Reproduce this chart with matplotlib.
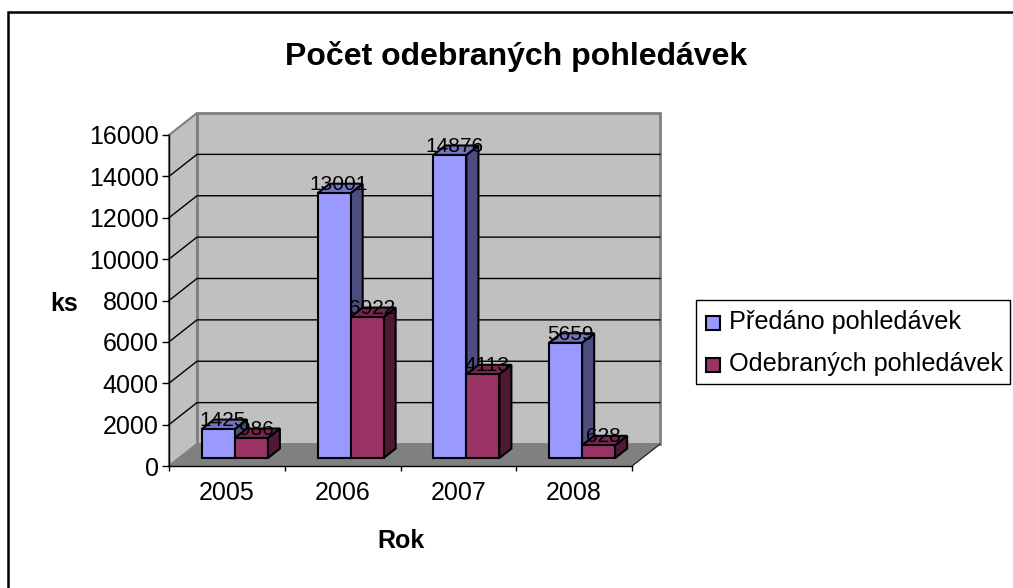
import numpy as np
import matplotlib
matplotlib.use("Agg")
import matplotlib.pyplot as plt
from matplotlib.patches import Polygon, Rectangle

plt.rcParams['font.family'] = ['Liberation Sans', 'DejaVu Sans']

years = ["2005", "2006", "2007", "2008"]
predano = [1425, 13001, 14876, 5659]
odebrano = [986, 6922, 4113, 628]
series_names = ["Předáno pohledávek", "Odebraných pohledávek"]
yticks = [0, 2000, 4000, 6000, 8000, 10000, 12000, 14000, 16000]

W, H = 1013, 588
fig = plt.figure(figsize=(W/100, H/100), dpi=100)

# okraj grafu
frame = fig.add_axes([0, 0, 1, 1], zorder=0)
frame.set_xlim(0, W)
frame.set_ylim(H, 0)
frame.axis("off")
frame.add_patch(Rectangle((8, 12), W-8+5, H-12+5, fc="white", ec="black", lw=1.8))

# hlavni osy, pozice v pixelech
x0, x1, y0, y1 = 169, 632, 466, 135
ax = fig.add_axes([x0/W, 1-y0/H, (x1-x0)/W, (y0-y1)/H], zorder=1)
ax.set_xlim(0, 4)
ax.set_ylim(0, 16000)
ax.patch.set_alpha(0)

# sikma hloubka: d=1 je zadni stena
dx = 28/((x1-x0)/4)
dy = 22/((y0-y1)/16000)


def pr(x, y, d):
    return (x + d*dx, y + d*dy)


def poly(pts, fc, ec="black", lw=1.5, z=2):
    ax.add_patch(Polygon(pts, closed=True, fc=fc, ec=ec, lw=lw, joinstyle="miter",
                         zorder=z, clip_on=False))


# steny
poly([pr(0, 0, 1), pr(4, 0, 1), pr(4, 16000, 1), pr(0, 16000, 1)], "#C0C0C0", "#808080", 2, 1)
poly([pr(0, 0, 0), pr(0, 0, 1), pr(0, 16000, 1), pr(0, 16000, 0)], "#C0C0C0", "#808080", 1.5, 1)
poly([pr(0, 0, 0), pr(4, 0, 0), pr(4, 0, 1), pr(0, 0, 1)], "#808080", "#808080", 1, 1.5)
a, b = pr(4, 0, 0), pr(4, 0, 1)
ax.plot([a[0], b[0]], [a[1], b[1]], color="#202020", lw=0.8, zorder=1.7, clip_on=False)

for t in yticks[1:-1]:
    a, b, c = pr(0, t, 0), pr(0, t, 1), pr(4, t, 1)
    ax.plot([a[0], b[0], c[0]], [a[1], b[1], c[1]], color="black", lw=1, zorder=1.6,
            clip_on=False, solid_joinstyle="miter")

bar_w = 0.285
margin = 0.197
d0, d1 = 0.36, 0.79
bar_scale = 0.985
colors = [("#9999FF", "#7373BF", "#4D4D80"), ("#993366", "#732650", "#4D1933")]

for i in range(len(years)):
    for s, vals in enumerate([predano, odebrano]):
        v = vals[i]*bar_scale
        xl = i + margin + s*bar_w
        xr = xl + bar_w
        front, top, side = colors[s]
        z = 3 + i*0.1 + s*0.01
        poly([pr(xr, 0, d0), pr(xr, 0, d1), pr(xr, v, d1), pr(xr, v, d0)], side, z=z)
        poly([pr(xl, v, d0), pr(xr, v, d0), pr(xr, v, d1), pr(xl, v, d1)], top, z=z)
        poly([pr(xl, 0, d0), pr(xr, 0, d0), pr(xr, v, d0), pr(xl, v, d0)], front, z=z)
        ax.annotate(str(vals[i]), pr((xl+xr)/2, v, 0.5), xytext=(0.5, 4), textcoords="offset points",
                    ha="center", va="center", fontsize=15, color="black", zorder=10,
                    annotation_clip=False)

for sp in ["top", "right"]:
    ax.spines[sp].set_visible(False)
for sp in ["left", "bottom"]:
    ax.spines[sp].set_linewidth(1)
    ax.spines[sp].set_zorder(5)
ax.set_xticks(range(5))
ax.set_xticklabels([])
ax.set_xticks([i+0.5 for i in range(4)], minor=True)
ax.set_xticklabels(years, minor=True, fontsize=18)
ax.tick_params(axis="x", which="minor", length=0, pad=11)
ax.tick_params(axis="x", which="major", length=3.5, width=1, direction="out")
ax.set_yticks(yticks)
ax.set_yticklabels([str(t) for t in yticks], fontsize=18)
ax.tick_params(axis="y", length=5, width=1, pad=2.5)

# texty
frame.text(516, 56, "Počet odebraných pohledávek", ha="center", va="center",
           fontsize=23, fontweight="bold")
frame.text(64, 304, "ks", ha="center", va="center", fontsize=18, fontweight="bold")
frame.text(401, 541, "Rok", ha="center", va="center", fontsize=18, fontweight="bold")

# legenda
frame.add_patch(Rectangle((696, 300), 314, 84, fc="white", ec="black", lw=1))
for s, yy in enumerate([323, 365]):
    frame.add_patch(Rectangle((706, yy-7), 14, 14, fc=colors[s][0], ec="black", lw=1.5))
    frame.text(729, yy-1, series_names[s], ha="left", va="center", fontsize=18.2)

fig.savefig("out.png", dpi=100)
